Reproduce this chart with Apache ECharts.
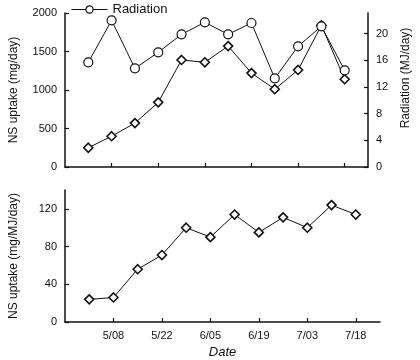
<!DOCTYPE html>
<html>
<head>
<meta charset="utf-8">
<script src="https://cdn.jsdelivr.net/npm/echarts@6/dist/echarts.min.js"></script>
<style>
  html, body { margin: 0; padding: 0; background: #fff; }
  #main { width: 420px; height: 360px; }
</style>
</head>
<body>
<div id="main"></div>
<script>
// axis positions (weekly), first and last are padding only
var axisCats = ['4/24', '5/01', '5/08', '5/15', '5/22', '5/29', '6/05', '6/12', '6/19', '6/26', '7/03', '7/10', '7/18', '7/25'];
var labelIdx = [2, 4, 6, 8, 10, 12];
var dates = ['5/01', '5/08', '5/15', '5/22', '5/29', '6/05', '6/12', '6/19', '6/26', '7/03', '7/10', '7/18'];
var uptake = [250, 400, 570, 840, 1390, 1360, 1570, 1220, 1010, 1260, 1840, 1140];
var radiation = [15.7, 22.0, 14.8, 17.2, 19.9, 21.7, 19.9, 21.6, 13.3, 18.1, 21.1, 14.5];
var uptakePerMJ = [24, 26, 56, 71, 100, 90, 114, 95, 111, 100, 124, 114];

function pairs(vals) {
  return dates.map(function (d, i) { return [d, vals[i]]; });
}

var font = 'Liberation Sans';
var black = '#111';
var axisLine = { lineStyle: { color: black, width: 1.5 } };
var tickIn = { inside: true, length: 4, lineStyle: { color: black, width: 1.2 } };
var lbl = { color: black, fontSize: 11, fontFamily: font };
var showIdx = function (i) { return labelIdx.indexOf(i) >= 0; };

var myChart = echarts.init(document.getElementById('main'));
var option = {
    animation: false,
    textStyle: { fontFamily: font },
    legend: {
        left: 66,
        top: -2,
        itemWidth: 36,
        itemHeight: 9,
        itemGap: 4,
        lineStyle: { width: 1 },
        itemStyle: { color: '#fff', borderColor: black, borderWidth: 1.2 },
        textStyle: { color: black, fontSize: 13, fontFamily: font },
        data: ['Radiation']
    },
    grid: [
        { left: 62, right: 39, top: 13, bottom: 193 },
        { left: 62, right: 40, top: 190, bottom: 38 }
    ],
    xAxis: [
        {
            type: 'category', gridIndex: 0, data: axisCats, boundaryGap: false,
            axisLine: axisLine,
            axisTick: Object.assign({ interval: showIdx }, tickIn),
            axisLabel: { show: false },
            splitLine: { show: false }
        },
        {
            type: 'category', gridIndex: 1, data: axisCats, boundaryGap: false,
            axisLine: axisLine,
            axisTick: Object.assign({ interval: showIdx }, tickIn),
            axisLabel: Object.assign({ interval: showIdx, margin: 8 }, lbl),
            splitLine: { show: false },
            name: 'Date',
            nameLocation: 'middle',
            nameGap: 24,
            nameTextStyle: { color: black, fontSize: 13, fontStyle: 'italic', fontFamily: font }
        }
    ],
    yAxis: [
        {
            type: 'value', gridIndex: 0, min: 0, max: 2000, interval: 500,
            axisLine: Object.assign({ show: true }, axisLine),
            axisTick: Object.assign({ show: true }, tickIn),
            axisLabel: Object.assign({ margin: 8, formatter: function (v) { return String(v); } }, lbl),
            splitLine: { show: false },
            name: 'NS uptake (mg/day)',
            nameLocation: 'middle',
            nameGap: 45,
            nameRotate: 90,
            nameTextStyle: { color: black, fontSize: 12, fontFamily: font }
        },
        {
            type: 'value', gridIndex: 0, position: 'right', min: 0, max: 23.1, interval: 4,
            axisLine: Object.assign({ show: true }, axisLine),
            axisTick: Object.assign({ show: true }, tickIn),
            axisLabel: Object.assign({ margin: 8, showMaxLabel: false }, lbl),
            splitLine: { show: false },
            name: 'Radiation (MJ/day)',
            nameLocation: 'middle',
            nameGap: 32,
            nameRotate: 90,
            nameTextStyle: { color: black, fontSize: 12, fontFamily: font, padding: [0, 0, 0, 24] }
        },
        {
            type: 'value', gridIndex: 1, min: 0, max: 140, interval: 40,
            axisLine: Object.assign({ show: true }, axisLine),
            axisTick: Object.assign({ show: true }, tickIn),
            axisLabel: Object.assign({ margin: 8, showMaxLabel: false }, lbl),
            splitLine: { show: false },
            name: 'NS uptake (mg/MJ/day)',
            nameLocation: 'middle',
            nameGap: 45,
            nameRotate: 90,
            nameTextStyle: { color: black, fontSize: 12, fontFamily: font }
        }
    ],
    series: [
        {
            name: 'NS uptake', type: 'line', xAxisIndex: 0, yAxisIndex: 0,
            data: pairs(uptake),
            symbol: 'diamond', symbolSize: 9,
            lineStyle: { color: black, width: 1 },
            itemStyle: { color: '#fff', borderColor: black, borderWidth: 1.6 }
        },
        {
            name: 'Radiation', type: 'line', xAxisIndex: 0, yAxisIndex: 1,
            data: pairs(radiation),
            symbol: 'circle', symbolSize: 9,
            lineStyle: { color: black, width: 1 },
            itemStyle: { color: '#fff', borderColor: black, borderWidth: 1.2 }
        },
        {
            name: 'NS uptake per MJ', type: 'line', xAxisIndex: 1, yAxisIndex: 2,
            data: pairs(uptakePerMJ),
            symbol: 'diamond', symbolSize: 9,
            lineStyle: { color: black, width: 1 },
            itemStyle: { color: '#fff', borderColor: black, borderWidth: 1.6 }
        }
    ]
};
myChart.setOption(option);
</script>
</body>
</html>
